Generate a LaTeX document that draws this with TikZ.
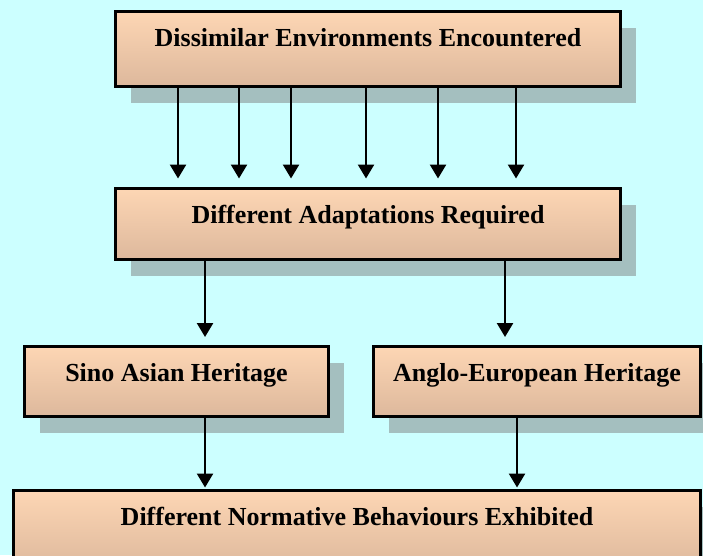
\documentclass[tikz,border=0pt]{standalone}
\usepackage{fontspec}
\setmainfont{Liberation Serif}
\usetikzlibrary{arrows.meta,shadows,calc}

\definecolor{bgcyan}{RGB}{204,255,255}
\definecolor{peachtop}{RGB}{253,214,180}
\definecolor{peachbot}{RGB}{221,184,156}
\definecolor{shadowgray}{RGB}{164,191,191}

\tikzset{
  stage/.style={draw=black, line width=3pt, top color=peachtop, bottom color=peachbot,
    anchor=north west, inner xsep=0pt, inner ysep=0pt, outer sep=0pt,
    text height=34.5pt, font=\fontsize{26}{30}\selectfont\bfseries,
    drop shadow={shadow xshift=15pt, shadow yshift=-16pt, fill=shadowgray, opacity=1}},
  flow/.style={line width=2.5pt, -{Triangle[length=14pt,width=16pt]}}
}

\begin{document}
\begin{tikzpicture}[x=1pt,y=-1pt]
  \useasboundingbox (0,0) rectangle (703,555);
  \clip (0,0) rectangle (703,555);
  \fill[bgcyan] (0,0) rectangle (703,555);

  % boxes
  \node[stage, minimum width=505pt, text depth=40.5pt] (b1) at (115.5,11.5)
    {Dissimilar Environments Encountered};
  \node[stage, minimum width=505pt, text depth=36.5pt] (b2) at (115.5,188.5)
    {Different Adaptations Required};
  \node[stage, minimum width=304pt, text depth=35.5pt] (b3) at (24.5,346.5)
    {Sino Asian Heritage};
  \node[stage, minimum width=327pt, text depth=35.5pt] (b4) at (373.5,346.5)
    {Anglo-European Heritage};
  \node[stage, minimum width=687pt, text depth=45pt] (b5) at (13.5,490.5)
    {Different Normative Behaviours Exhibited};

  % six arrows from the top box
  \foreach \dx in {62.5,123.5,175.5,250.5,322.5,400.5}
    \draw[flow, shorten >=10pt] ($(b1.south west)+(\dx,0)$) -- ($(b2.north west)+(\dx,0)$);

  % split into the two heritages
  \draw[flow, shorten >=9.5pt] ($(b2.south west)+(89.5,0)$) -- ($(b3.north west)+(180.5,0)$);
  \draw[flow, shorten >=9.5pt] ($(b2.south west)+(389.5,0)$) -- ($(b4.north west)+(131.5,0)$);

  % join into the outcome box
  \draw[flow, shorten >=3pt] ($(b3.south west)+(180.5,0)$) -- ($(b5.north west)+(191.5,0)$);
  \draw[flow, shorten >=3pt] ($(b4.south west)+(143.5,0)$) -- ($(b5.north west)+(503.5,0)$);
\end{tikzpicture}
\end{document}
